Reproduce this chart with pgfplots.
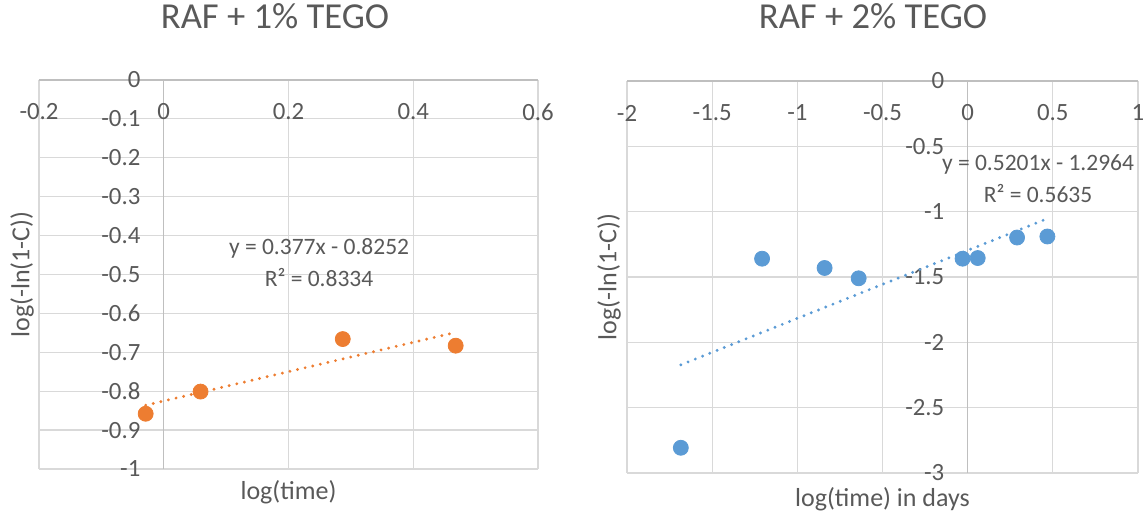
\documentclass[border=0pt]{standalone}
\usepackage{pgfplots}
\pgfplotsset{compat=1.18}
\usepackage{fontspec}
\setmainfont{Carlito}
\definecolor{txt}{HTML}{595959}
\definecolor{gridc}{HTML}{D9D9D9}
\definecolor{axc}{HTML}{BFBFBF}
\definecolor{orng}{HTML}{ED7D31}
\definecolor{blu}{HTML}{5B9BD5}
\pgfplotsset{excel/.style={
  scale only axis,
  axis lines=middle,
  axis line style={-, draw=axc, line width=0.6pt},
  hide obscured x ticks=false, hide obscured y ticks=false,
  major tick length=0pt,
  enlargelimits=false,
  grid=major,
  major grid style={draw=gridc, line width=0.6pt},
  tick label style={font=\fontsize{12.4}{14}\selectfont, text=txt},
  xticklabel style={anchor=center, yshift=-16pt},
  yticklabel style={anchor=east, inner xsep=0pt, xshift=-11.5pt},
  label style={font=\fontsize{13}{15}\selectfont, text=txt},
  title style={font=\fontsize{18.3}{22}\selectfont, text=txt, anchor=center},
  clip=false,
}}
\tikzset{trend/.style={line width=1.6pt, dash pattern=on 0pt off 3.9pt, line cap=round}}
\begin{document}
\begin{tikzpicture}
\path[use as bounding box] (0,0) rectangle (572pt,256pt);
\begin{axis}[excel,
  at={(19.5pt,21.5pt)}, anchor=south west,
  width=249.5pt, height=194.5pt,
  xmin=-0.2, xmax=0.6, ymin=-1, ymax=0,
  xtick={-0.2,0,0.2,0.4,0.6}, xticklabels={-0.2,0,0.2,0.4,0.6},
  ytick={-1,-0.9,-0.8,-0.7,-0.6,-0.5,-0.4,-0.3,-0.2,-0.1,0},
  yticklabels={-1,-0.9,-0.8,-0.7,-0.6,-0.5,-0.4,-0.3,-0.2,-0.1,0},
  title={RAF + 1\% TEGO}, title style={at={(axis description cs:0.473,1.1337)}},
  xlabel={log(time)}, xlabel style={at={(axis description cs:0.5,-0.0591)}, anchor=center},
  ylabel={log(-ln(1-C))}, ylabel style={at={(axis description cs:-0.0341,0.5)}, anchor=center, rotate=90},
]
\addplot[only marks, mark=*, mark size=3.75pt, color=orng] coordinates {
(-0.029,-0.858) (0.059,-0.801) (0.287,-0.666) (0.468,-0.683)};
\addplot[orng, trend] coordinates {(-0.029,-0.8361) (0.468,-0.6488)};
\node[font=\fontsize{11.75}{14}\selectfont, text=txt, align=center] at (axis cs:0.249,-0.47) {y = 0.377x - 0.8252\\[2pt]R² = 0.8334};
\end{axis}
\begin{axis}[excel,
  at={(313.5pt,19.5pt)}, anchor=south west,
  width=255.5pt, height=196pt,
  xmin=-2, xmax=1, ymin=-3, ymax=0,
  xtick={-2,-1.5,-1,-0.5,0,0.5,1}, xticklabels={-2,-1.5,-1,-0.5,0,0.5,1},
  ytick={-3,-2.5,-2,-1.5,-1,-0.5,0}, yticklabels={-3,-2.5,-2,-1.5,-1,-0.5,0},
  title={RAF + 2\% TEGO}, title style={at={(axis description cs:0.4814,1.135)}},
  xlabel={log(time) in days}, xlabel style={at={(axis description cs:0.5,-0.066)}, anchor=center},
  ylabel={log(-ln(1-C))}, ylabel style={at={(axis description cs:-0.0352,0.5)}, anchor=center, rotate=90},
]
\addplot[only marks, mark=*, mark size=3.75pt, color=blu] coordinates {
(-1.684,-2.807) (-1.207,-1.360) (-0.840,-1.431) (-0.640,-1.510)
(-0.030,-1.360) (0.059,-1.355) (0.290,-1.198) (0.468,-1.190)};
\addplot[blu, trend] coordinates {(-1.684,-2.1723) (0.468,-1.0530)};
\node[font=\fontsize{11.75}{14}\selectfont, text=txt, align=center] at (axis cs:0.413,-0.75) {y = 0.5201x - 1.2964\\[2pt]R² = 0.5635};
\end{axis}
\end{tikzpicture}
\end{document}
